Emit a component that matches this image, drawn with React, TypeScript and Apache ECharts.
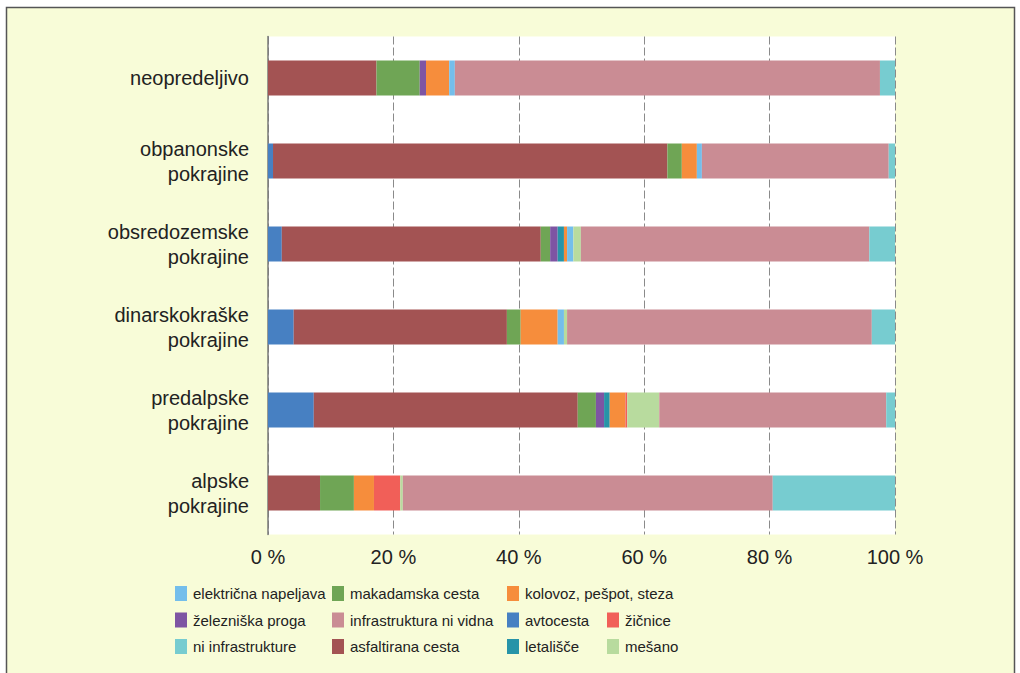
import React, { useEffect, useRef } from "react";
import * as echarts from "echarts";

const categories = [
  "alpske\npokrajine",
  "predalpske\npokrajine",
  "dinarskokraške\npokrajine",
  "obsredozemske\npokrajine",
  "obpanonske\npokrajine",
  "neopredeljivo",
];

const xTicks = [0, 20, 40, 60, 80, 100];

const avtocesta = [0, 7.3, 4.1, 2.2, 0.8, 0];
const asfaltirana = [8.3, 42.1, 34.0, 41.3, 62.9, 17.3];
const makadamska = [5.4, 2.9, 2.2, 1.5, 2.3, 6.9];
const zeleznica = [0, 1.3, 0, 1.2, 0, 1.0];
const letalisce = [0, 0.9, 0, 1.0, 0, 0];
const kolovoz = [3.2, 2.5, 5.9, 0.5, 2.4, 3.7];
const zicnice = [4.2, 0.3, 0, 0, 0, 0];
const elektricna = [0, 0, 1.0, 1.0, 0.8, 0.9];
const mesano = [0.4, 5.1, 0.5, 1.2, 0, 0];
const niVidna = [59.0, 36.2, 48.6, 46.0, 29.8, 67.8];
const niInfra = [19.5, 1.4, 3.7, 4.1, 1.0, 2.4];

const seriesDefs = [
  { name: "avtocesta", data: avtocesta, color: "#4780C2" },
  { name: "asfaltirana cesta", data: asfaltirana, color: "#A35353" },
  { name: "makadamska cesta", data: makadamska, color: "#6FA555" },
  { name: "železniška proga", data: zeleznica, color: "#7E55A3" },
  { name: "letališče", data: letalisce, color: "#2794A8" },
  { name: "kolovoz, pešpot, steza", data: kolovoz, color: "#F68D3C" },
  { name: "žičnice", data: zicnice, color: "#F15F58" },
  { name: "električna napeljava", data: elektricna, color: "#74BEEB" },
  { name: "mešano", data: mesano, color: "#B8DB9E" },
  { name: "infrastruktura ni vidna", data: niVidna, color: "#CA8C94" },
  { name: "ni infrastrukture", data: niInfra, color: "#77CCD0" },
];

const legendCols = [
  { left: 175, top: 586, items: ["električna napeljava", "železniška proga", "ni infrastrukture"] },
  { left: 332, top: 586, items: ["makadamska cesta", "infrastruktura ni vidna", "asfaltirana cesta"] },
  { left: 507, top: 586, items: ["kolovoz, pešpot, steza", "avtocesta", "letališče"] },
  { left: 607, top: 612.5, items: ["žičnice", "mešano"] },
];

const FONT = "'Liberation Sans', Arial, Helvetica, sans-serif";

export default function App() {
  const ref = useRef<HTMLDivElement>(null);
  useEffect(() => {
    if (!ref.current) return;
    const chart = echarts.init(ref.current, undefined, { renderer: "svg" });
    chart.setOption({
      animation: false,
      backgroundColor: "#ffffff",
      textStyle: { fontFamily: FONT },
      graphic: [
        {
          type: "rect",
          z: -5,
          silent: true,
          shape: { x: 6.5, y: 7.5, width: 1008, height: 680 },
          style: { fill: "#F8FCD8", stroke: "#555555", lineWidth: 1.5 },
        },
      ],
      grid: {
        left: 268,
        right: 125,
        top: 36.5,
        bottom: 138.5,
        show: true,
        backgroundColor: "#ffffff",
        borderWidth: 0,
      },
      legend: legendCols.map((c) => ({
        orient: "vertical",
        left: c.left,
        top: c.top,
        itemWidth: 12,
        itemHeight: 15,
        itemGap: 11.5,
        icon: "rect",
        selectedMode: false,
        padding: 0,
        data: c.items,
        textStyle: { fontSize: 15, color: "#222222", fontFamily: FONT, padding: [0, 0, 0, 1] },
      })),
      xAxis: {
        type: "value",
        min: xTicks[0],
        max: xTicks[xTicks.length - 1],
        interval: 20,
        axisLine: { show: false },
        axisTick: { show: false },
        axisLabel: {
          formatter: "{value} %",
          fontSize: 20,
          color: "#222222",
          margin: 12,
          fontFamily: FONT,
        },
        splitLine: {
          show: true,
          lineStyle: { color: "#8a8a8a", type: [8, 3], width: 1 },
        },
      },
      yAxis: {
        type: "category",
        data: categories,
        axisLine: { show: true, lineStyle: { color: "#7a7a7a", width: 1.5 } },
        axisTick: { show: false },
        axisLabel: {
          fontSize: 20,
          color: "#222222",
          margin: 19,
          lineHeight: 25,
          align: "right",
          fontFamily: FONT,
        },
      },
      series: seriesDefs.map((s) => ({
        name: s.name,
        type: "bar",
        stack: "total",
        barWidth: 35,
        data: s.data,
        itemStyle: { color: s.color },
        emphasis: { disabled: true },
      })),
    });
    return () => chart.dispose();
  }, []);
  return (
    <div
      ref={ref}
      style={{ position: "fixed", left: 0, top: 0, width: 1020, height: 673 }}
    />
  );
}
